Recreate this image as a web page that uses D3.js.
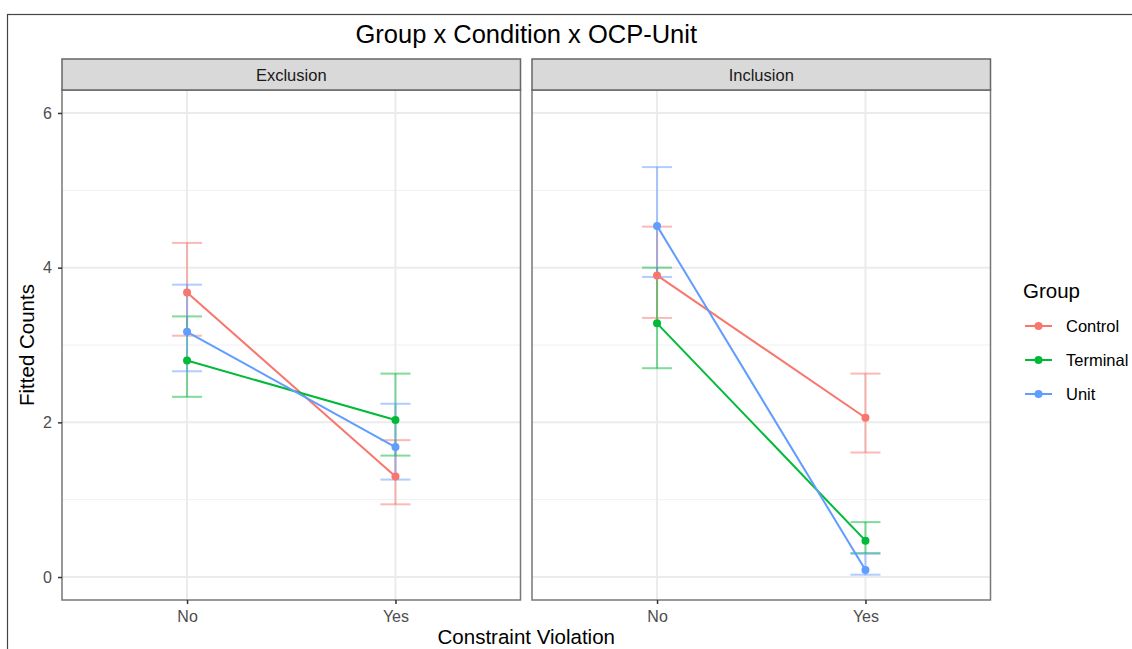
<!DOCTYPE html>
<html>
<head>
<meta charset="utf-8">
<script src="https://cdn.jsdelivr.net/npm/d3@7"></script>
<style>
  body { margin: 0; background: #fff; }
  text { font-family: "Liberation Sans", Arial, sans-serif; }
</style>
</head>
<body>
<div id="chart"></div>
<script>
// data
var conditions = ["Exclusion", "Inclusion"];
var violations = ["No", "Yes"];
var groups = ["Control", "Terminal", "Unit"];
var groupColors = ["#F8766D", "#00BA38", "#619CFF"];
var yTicks = [0, 2, 4, 6];
var yMinor = [1, 3, 5];

// fitted counts per group: [Exclusion No, Exclusion Yes, Inclusion No, Inclusion Yes]
var controlFit = [3.68, 1.30, 3.90, 2.06];
var controlLow = [3.12, 0.94, 3.35, 1.61];
var controlHigh = [4.32, 1.77, 4.53, 2.63];

var terminalFit = [2.80, 2.03, 3.28, 0.47];
var terminalLow = [2.33, 1.57, 2.70, 0.31];
var terminalHigh = [3.37, 2.63, 4.00, 0.71];

var unitFit = [3.17, 1.68, 4.54, 0.09];
var unitLow = [2.66, 1.26, 3.88, 0.03];
var unitHigh = [3.78, 2.24, 5.30, 0.30];

var fits = [controlFit, terminalFit, unitFit];
var lows = [controlLow, terminalLow, unitLow];
var highs = [controlHigh, terminalHigh, unitHigh];

// build rows
var rows = [];
groups.forEach(function(g, gi) {
  conditions.forEach(function(c, ci) {
    violations.forEach(function(v, vi) {
      var k = ci * 2 + vi;
      rows.push({group: g, gi: gi, condition: c, violation: v,
        fit: fits[gi][k], low: lows[gi][k], high: highs[gi][k]});
    });
  });
});

// styling
var svgWidth = 1132;
var svgHeight = 649;
var panelTop = 90;
var panelBottom = 600;
var stripHeight = 31;
var panelLefts = [62, 532];
var panelWidth = 458.5;

var svg = d3.select("#chart")
  .append("svg")
  .attr("width", svgWidth)
  .attr("height", svgHeight);

// outer frame
svg.append("rect")
  .attr("x", 7.5)
  .attr("y", 14.5)
  .attr("width", svgWidth + 10)
  .attr("height", svgHeight + 10)
  .attr("fill", "none")
  .attr("stroke", "#444")
  .attr("stroke-width", 1.2);

var yScale = d3.scaleLinear()
  .domain([-0.297, 6.297])
  .range([panelBottom, panelTop]);

var color = d3.scaleOrdinal()
  .domain(groups)
  .range(groupColors);

conditions.forEach(function(cond, ci) {
  var left = panelLefts[ci];

  var xScale = d3.scalePoint()
    .domain(violations)
    .range([left, left + panelWidth])
    .padding(0.6);

  var panel = svg.append("g");

  // background + grid
  panel.append("rect")
    .attr("x", left)
    .attr("y", panelTop)
    .attr("width", panelWidth)
    .attr("height", panelBottom - panelTop)
    .attr("fill", "#fff");

  panel.selectAll(".minor")
    .data(yMinor)
    .enter()
    .append("line")
    .attr("x1", left)
    .attr("x2", left + panelWidth)
    .attr("y1", d => yScale(d))
    .attr("y2", d => yScale(d))
    .attr("stroke", "#f0f0f0")
    .attr("stroke-width", 1);

  panel.selectAll(".major")
    .data(yTicks)
    .enter()
    .append("line")
    .attr("x1", left)
    .attr("x2", left + panelWidth)
    .attr("y1", d => yScale(d))
    .attr("y2", d => yScale(d))
    .attr("stroke", "#ebebeb")
    .attr("stroke-width", 2);

  panel.selectAll(".vgrid")
    .data(violations)
    .enter()
    .append("line")
    .attr("x1", d => xScale(d))
    .attr("x2", d => xScale(d))
    .attr("y1", panelTop)
    .attr("y2", panelBottom)
    .attr("stroke", "#ebebeb")
    .attr("stroke-width", 2);

  var sub = rows.filter(r => r.condition === cond);

  // error bars
  var capHalf = 15;
  var bars = panel.selectAll(".err")
    .data(sub)
    .enter()
    .append("g")
    .attr("stroke", d => color(d.group))
    .attr("stroke-opacity", 0.5)
    .attr("stroke-width", 2);
  bars.append("line")
    .attr("x1", d => xScale(d.violation))
    .attr("x2", d => xScale(d.violation))
    .attr("y1", d => yScale(d.low))
    .attr("y2", d => yScale(d.high));
  bars.append("line")
    .attr("x1", d => xScale(d.violation) - capHalf)
    .attr("x2", d => xScale(d.violation) + capHalf)
    .attr("y1", d => yScale(d.high))
    .attr("y2", d => yScale(d.high));
  bars.append("line")
    .attr("x1", d => xScale(d.violation) - capHalf)
    .attr("x2", d => xScale(d.violation) + capHalf)
    .attr("y1", d => yScale(d.low))
    .attr("y2", d => yScale(d.low));

  // lines
  var line = d3.line()
    .x(d => xScale(d.violation))
    .y(d => yScale(d.fit));
  groups.forEach(function(g) {
    panel.append("path")
      .datum(sub.filter(r => r.group === g))
      .attr("d", line)
      .attr("fill", "none")
      .attr("stroke", color(g))
      .attr("stroke-width", 2);
  });

  // points
  panel.selectAll(".pt")
    .data(sub)
    .enter()
    .append("circle")
    .attr("cx", d => xScale(d.violation))
    .attr("cy", d => yScale(d.fit))
    .attr("r", 4)
    .attr("fill", d => color(d.group));

  // border
  panel.append("rect")
    .attr("x", left)
    .attr("y", panelTop)
    .attr("width", panelWidth)
    .attr("height", panelBottom - panelTop)
    .attr("fill", "none")
    .attr("stroke", "#777")
    .attr("stroke-width", 1.5);

  // strip
  panel.append("rect")
    .attr("x", left)
    .attr("y", panelTop - stripHeight)
    .attr("width", panelWidth)
    .attr("height", stripHeight)
    .attr("fill", "#d9d9d9")
    .attr("stroke", "#666")
    .attr("stroke-width", 1.5);
  panel.append("text")
    .attr("x", left + panelWidth / 2)
    .attr("y", panelTop - stripHeight / 2 + 6)
    .attr("text-anchor", "middle")
    .attr("font-size", "16.5px")
    .attr("fill", "#1a1a1a")
    .text(cond);

  // x axis
  var xAxis = d3.axisBottom(xScale).tickSize(4).tickPadding(7);
  var gx = panel.append("g")
    .attr("transform", `translate(0, ${panelBottom})`)
    .call(xAxis);
  gx.select(".domain").remove();
  gx.selectAll("line").attr("stroke", "#333").attr("stroke-width", 1.5);
  gx.selectAll("text")
    .attr("font-size", "16px")
    .attr("fill", "#4d4d4d")
    .attr("font-family", "Liberation Sans, Arial, sans-serif");
});

// y axis
var yAxis = d3.axisLeft(yScale)
  .tickValues(yTicks)
  .tickFormat(d3.format("d"))
  .tickSize(4)
  .tickPadding(6);
var gy = svg.append("g")
  .attr("transform", `translate(${panelLefts[0]}, 0)`)
  .call(yAxis);
gy.select(".domain").remove();
gy.selectAll("line").attr("stroke", "#333").attr("stroke-width", 1.5);
gy.selectAll("text")
  .attr("font-size", "16px")
  .attr("fill", "#4d4d4d")
  .attr("font-family", "Liberation Sans, Arial, sans-serif");

// titles
var plotCenter = (panelLefts[0] + panelLefts[1] + panelWidth) / 2;
svg.append("text")
  .attr("x", plotCenter)
  .attr("y", 43)
  .attr("text-anchor", "middle")
  .attr("font-size", "25.5px")
  .attr("fill", "#000")
  .text("Group x Condition x OCP-Unit");

svg.append("text")
  .attr("x", plotCenter)
  .attr("y", 644)
  .attr("text-anchor", "middle")
  .attr("font-size", "20.5px")
  .attr("fill", "#000")
  .text("Constraint Violation");

svg.append("text")
  .attr("transform", `translate(34, ${(panelTop + panelBottom) / 2}) rotate(-90)`)
  .attr("text-anchor", "middle")
  .attr("font-size", "20.5px")
  .attr("fill", "#000")
  .text("Fitted Counts");

// legend
var legend = svg.append("g")
  .attr("transform", "translate(1023, 0)");
legend.append("text")
  .attr("x", 0)
  .attr("y", 298)
  .attr("font-size", "20.5px")
  .attr("fill", "#000")
  .text("Group");

var legendY = d3.scalePoint()
  .domain(groups)
  .range([326, 394]);

var items = legend.selectAll(".item")
  .data(groups)
  .enter()
  .append("g")
  .attr("transform", d => `translate(0, ${legendY(d)})`);
items.append("line")
  .attr("x1", 2)
  .attr("x2", 29)
  .attr("stroke", d => color(d))
  .attr("stroke-width", 2);
items.append("circle")
  .attr("cx", 15.5)
  .attr("r", 4)
  .attr("fill", d => color(d));
items.append("text")
  .attr("x", 43)
  .attr("y", 6)
  .attr("font-size", "16.5px")
  .attr("fill", "#000")
  .text(d => d);
</script>
</body>
</html>
